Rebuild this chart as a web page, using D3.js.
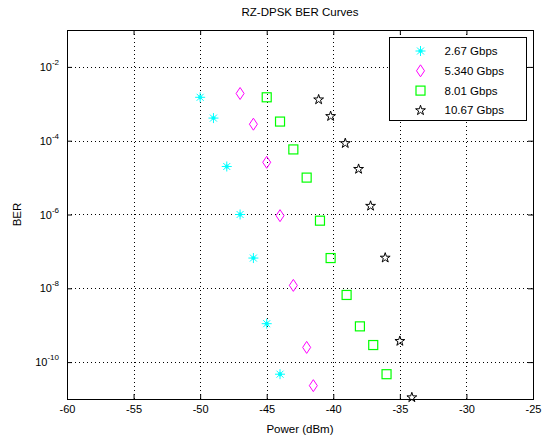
<!DOCTYPE html>
<html>
<head>
<meta charset="utf-8">
<script src="https://cdn.jsdelivr.net/npm/d3@7"></script>
<style>
  body { margin: 0; background: #fff; }
  text { font-family: "Liberation Sans", Arial, sans-serif; }
</style>
</head>
<body>
<script>
// Data
const seriesNames = ["2.67 Gbps", "5.340 Gbps", "8.01 Gbps", "10.67 Gbps"];
const power267 = [-50, -49, -48, -47, -46, -45, -44];
const ber267 = [1.5e-3, 4.1e-4, 2.0e-5, 1.0e-6, 6.6e-8, 1.1e-9, 4.7e-11];
const power534 = [-47, -46, -45, -44, -43, -42, -41.5];
const ber534 = [1.9e-3, 2.8e-4, 2.6e-5, 9.3e-7, 1.2e-8, 2.5e-10, 2.3e-11];
const power801 = [-45, -44, -43, -42, -41, -40.2, -39, -38, -37, -36];
const ber801 = [1.5e-3, 3.3e-4, 5.8e-5, 1.0e-5, 6.8e-7, 6.6e-8, 6.6e-9, 9.3e-10, 2.9e-10, 4.7e-11];
const power1067 = [-41.1, -40.2, -39.1, -38.1, -37.2, -36.1, -35, -34.1];
const ber1067 = [1.3e-3, 4.6e-4, 8.5e-5, 1.7e-5, 1.7e-6, 6.7e-8, 3.7e-10, 1.1e-11];
const xTicks = [-60, -55, -50, -45, -40, -35, -30, -25];
const yTickExp = [-2, -4, -6, -8, -10];

const width = 543, height = 441;
const margin = {top: 30, right: 10, bottom: 42, left: 67};
const plotW = width - margin.left - margin.right,
      plotH = height - margin.top - margin.bottom;

const svg = d3.select("body").append("svg")
    .attr("width", width)
    .attr("height", height);

const x = d3.scaleLinear().domain([-60, -25]).range([0, plotW]);
const y = d3.scaleLog().domain([1e-11, 1e-1]).range([plotH, 0]);

const g = svg.append("g").attr("transform", `translate(${margin.left},${margin.top})`);

// grid
g.selectAll(".vgrid").data(xTicks.slice(1, -1)).enter().append("line")
    .attr("x1", d => Math.round(x(d)) + 0.5).attr("x2", d => Math.round(x(d)) + 0.5)
    .attr("y1", 0).attr("y2", plotH)
    .attr("stroke", "#000").attr("stroke-width", 1).attr("stroke-dasharray", "1,3");
g.selectAll(".hgrid").data(yTickExp).enter().append("line")
    .attr("x1", 0).attr("x2", plotW)
    .attr("y1", d => Math.round(y(Math.pow(10, d))) + 0.5)
    .attr("y2", d => Math.round(y(Math.pow(10, d))) + 0.5)
    .attr("stroke", "#000").attr("stroke-width", 1).attr("stroke-dasharray", "1,3");

// axes with inward ticks on all four sides
g.append("g").attr("transform", `translate(0,${plotH})`)
    .call(d3.axisBottom(x).tickValues(xTicks).tickSize(-5).tickPadding(6).tickFormat(d => String(d)))
    .call(a => a.select(".domain").remove());
g.append("g")
    .call(d3.axisTop(x).tickValues(xTicks).tickSize(-5).tickFormat(""))
    .call(a => a.select(".domain").remove());
g.append("g")
    .call(d3.axisLeft(y).tickValues(yTickExp.map(e => Math.pow(10, e))).tickSize(-5).tickFormat(""))
    .call(a => a.select(".domain").remove());
g.append("g").attr("transform", `translate(${plotW},0)`)
    .call(d3.axisRight(y).tickValues(yTickExp.map(e => Math.pow(10, e))).tickSize(-5).tickFormat(""))
    .call(a => a.select(".domain").remove());
g.selectAll(".tick line").attr("stroke", "#000");
g.selectAll(".tick text").attr("font-size", 11).attr("fill", "#000")
    .style("font-family", "'Liberation Sans', Arial, sans-serif");

// y tick labels 10^n
const yl = g.selectAll(".ylab").data(yTickExp).enter().append("text")
    .attr("x", -8).attr("y", d => y(Math.pow(10, d)) + 4)
    .attr("text-anchor", "end").attr("font-size", 11);
yl.each(function(d) {
  const t = d3.select(this);
  t.append("tspan").text("10");
  t.append("tspan").attr("dy", -6).attr("font-size", 8).text(String(d));
});

g.append("rect").attr("x", 0.5).attr("y", 0.5).attr("width", plotW).attr("height", plotH)
    .attr("fill", "none").attr("stroke", "#000");

// markers
const series = [
  {p: power267, b: ber267, color: "#00ffff", sym: "asterisk"},
  {p: power534, b: ber534, color: "#ff00ff", sym: "diamond"},
  {p: power801, b: ber801, color: "#00ff00", sym: "square"},
  {p: power1067, b: ber1067, color: "#000000", sym: "star"}
];

function drawMarker(sel, sym, color) {
  if (sym === "asterisk") {
    sel.append("path").attr("d", "M-5,0H5M0,-5V5M-3.5,-3.5L3.5,3.5M-3.5,3.5L3.5,-3.5")
        .attr("stroke", color).attr("stroke-width", 1).attr("fill", "none");
    sel.append("path").attr("d", "M-2,0H2M0,-2V2").attr("stroke", color).attr("stroke-width", 2);
  } else if (sym === "diamond") {
    sel.append("path").attr("d", "M0,-6L4,0L0,6L-4,0Z")
        .attr("stroke", color).attr("fill", "none");
  } else if (sym === "square") {
    sel.append("rect").attr("x", -4.5).attr("y", -4.5).attr("width", 9).attr("height", 9)
        .attr("stroke", color).attr("stroke-width", 1.2).attr("fill", "none");
  } else {
    sel.append("path").attr("d", d3.symbol(d3.symbolStar, 30)())
        .attr("stroke", color).attr("fill", "none");
  }
}

series.forEach(s => {
  s.p.forEach((p, i) => {
    const m = g.append("g").attr("transform", `translate(${x(p)},${y(s.b[i])})`);
    drawMarker(m, s.sym, s.color);
  });
});

// legend
const lg = svg.append("g").attr("transform", "translate(389.5,37.5)");
lg.append("rect").attr("width", 137).attr("height", 83)
    .attr("fill", "#fff").attr("stroke", "#000");
series.forEach((s, i) => {
  const row = lg.append("g").attr("transform", `translate(31,${13.5 + i * 19.8})`);
  drawMarker(row, s.sym, s.color);
  row.append("text").attr("x", 24).attr("y", 4).attr("font-size", 11.5).text(seriesNames[i]);
});

// titles
svg.append("text").attr("x", margin.left + plotW / 2).attr("y", 16)
    .attr("text-anchor", "middle").attr("font-size", 11.5).text("RZ-DPSK BER Curves");
svg.append("text").attr("x", margin.left + plotW / 2).attr("y", 433)
    .attr("text-anchor", "middle").attr("font-size", 11.5).text("Power (dBm)");
svg.append("text").attr("transform", `translate(21,${margin.top + plotH / 2}) rotate(-90)`)
    .attr("text-anchor", "middle").attr("font-size", 11.5).text("BER");
</script>
</body>
</html>
